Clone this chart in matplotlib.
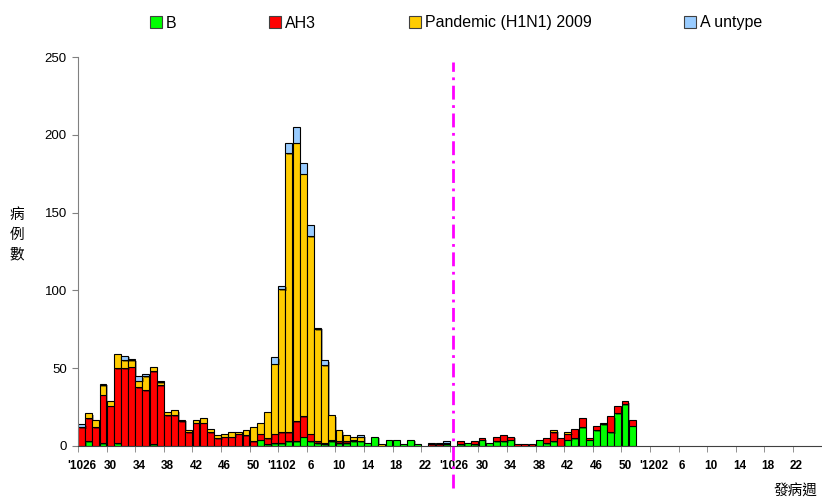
import matplotlib

matplotlib.use("Agg")

import matplotlib.pyplot as plt
import matplotlib.patheffects as pe
import numpy as np
from matplotlib.patches import Patch

# weekly counts, 2010 wk26 .. 2012 wk25 (104 weeks)
b_counts = [
    0, 3, 0, 2, 0, 2, 0, 0, 0, 0,
    1, 0, 0, 0, 0, 0, 0, 0, 0, 0,
    0, 0, 0, 0, 0, 4, 1, 2, 2, 3,
    3, 6, 3, 2, 1, 3, 2, 2, 3, 3,
    2, 6, 0, 4, 4, 1, 4, 1, 0, 0,
    0, 1, 0, 1, 2, 1, 4, 2, 3, 3,
    4, 0, 0, 0, 4, 2, 3, 0, 4, 5,
    12, 4, 10, 14, 9, 21, 27, 13, 0, 0,
    0, 0, 0, 0, 0, 0, 0, 0, 0, 0,
    0, 0, 0, 0, 0, 0, 0, 0, 0, 0,
    0, 0, 0, 0,
]
ah3_counts = [
    12, 15, 12, 31, 26, 48, 50, 51, 38, 36,
    47, 39, 20, 20, 16, 9, 15, 15, 9, 5,
    6, 6, 8, 7, 3, 4, 4, 6, 7, 6,
    13, 13, 5, 1, 1, 1, 1, 1, 1, 0,
    0, 0, 0, 0, 0, 0, 0, 0, 0, 1,
    1, 1, 0, 2, 0, 2, 1, 0, 3, 4,
    2, 1, 1, 1, 0, 3, 6, 5, 4, 6,
    6, 1, 3, 1, 10, 5, 2, 4, 0, 0,
    0, 0, 0, 0, 0, 0, 0, 0, 0, 0,
    0, 0, 0, 0, 0, 0, 0, 0, 0, 0,
    0, 0, 0, 0,
]
pandemic_counts = [
    0, 3, 5, 6, 3, 9, 5, 4, 4, 9,
    3, 2, 2, 3, 1, 1, 2, 3, 2, 2,
    2, 3, 1, 3, 9, 7, 17, 45, 92, 179,
    179, 156, 127, 72, 50, 16, 7, 4, 2, 3,
    0, 0, 1, 0, 0, 0, 0, 0, 0, 0,
    1, 0, 0, 0, 0, 0, 0, 0, 0, 0,
    0, 0, 0, 0, 0, 0, 1, 0, 1, 0,
    0, 0, 0, 0, 0, 0, 0, 0, 0, 0,
    0, 0, 0, 0, 0, 0, 0, 0, 0, 0,
    0, 0, 0, 0, 0, 0, 0, 0, 0, 0,
    0, 0, 0, 0,
]
untype_counts = [
    2, 0, 0, 1, 0, 0, 3, 1, 3, 1,
    0, 1, 0, 0, 0, 0, 0, 0, 0, 0,
    0, 0, 0, 0, 0, 0, 0, 4, 2, 7,
    10, 7, 7, 1, 3, 0, 0, 0, 0, 1,
    0, 0, 0, 0, 0, 0, 0, 0, 0, 1,
    0, 1, 0, 0, 0, 0, 0, 0, 0, 0,
    0, 0, 0, 0, 0, 0, 0, 0, 0, 0,
    0, 0, 0, 0, 0, 0, 0, 0, 0, 0,
    0, 0, 0, 0, 0, 0, 0, 0, 0, 0,
    0, 0, 0, 0, 0, 0, 0, 0, 0, 0,
    0, 0, 0, 0,
]
week_labels = [
    "'1026", "30", "34", "38", "42", "46", "50", "'1102", "6", "10", "14", "18", "22",
    "'1026", "30", "34", "38", "42", "46", "50", "'1202", "6", "10", "14", "18", "22",
]
series_names = ["B", "AH3", "Pandemic (H1N1) 2009", "A untype"]
series_colors = ["#00FF00", "#FF0000", "#FFCC00", "#99CCFF"]
divider_week = 52  # '11 wk26

plt.rcParams["font.family"] = ["Liberation Sans", "DejaVu Sans"]
cjk = ["Noto Sans CJK TC", "DejaVu Sans"]

fig = plt.figure(figsize=(8.22, 5.0), dpi=100)
ax = fig.add_axes([78 / 822, 54 / 500, 743.6 / 822, 389 / 500])

x = np.arange(len(b_counts))
bottom = np.zeros(len(x))
shadow = [pe.SimplePatchShadow(offset=(1.2, -1.2), shadow_rgbFace="#000000", alpha=0.35), pe.Normal()]
for vals, color in zip([b_counts, ah3_counts, pandemic_counts, untype_counts], series_colors):
    vals = np.asarray(vals, dtype=float)
    mask = vals > 0
    bars = ax.bar(x[mask], vals[mask], bottom=bottom[mask], width=0.96, color=color,
                  edgecolor="black", linewidth=0.8)
    for b in bars:
        b.set_path_effects(shadow)
    bottom += vals

ax.set_xlim(-0.5, len(x) - 0.5)
ax.set_ylim(0, 250)
ax.set_yticks(np.arange(0, 251, 50))
ax.tick_params(axis="y", direction="out", length=4, color="#808080", labelsize=9.5, pad=4)

ax.set_xticks(np.arange(0, 4 * len(week_labels), 4))
ax.set_xticklabels(week_labels, fontsize=8.5, fontweight="bold")
ax.set_xticks(np.arange(-0.5, len(x), 4), minor=True)
ax.tick_params(axis="x", which="major", length=0, pad=10)
ax.tick_params(axis="x", which="minor", direction="out", length=4, color="#808080")

for side in ["top", "right"]:
    ax.spines[side].set_visible(False)
ax.spines["left"].set_color("#808080")
ax.spines["bottom"].set_color("#404040")

ax.axvline(divider_week, ymin=-0.108, ymax=0.987, color="#FF00FF", linewidth=2,
           linestyle=(0, (5, 2, 1, 2)), clip_on=False, zorder=5)

fig.text(17 / 822, 1 - 235 / 500, "病\n例\n數", family=cjk, fontsize=10.5,
         ha="center", va="center", linespacing=1.5)
fig.text(795 / 822, 1 - 492 / 500, "發病週", family=cjk, fontsize=10.5, ha="center", va="center")

handles = [Patch(facecolor=c, edgecolor="#404040", linewidth=0.8) for c in series_colors]
fig.legend(handles, series_names, loc="center", bbox_to_anchor=(456 / 822, 1 - 23 / 500),
           ncol=4, frameon=False, fontsize=11.5, handlelength=0.75, handleheight=0.75,
           handletextpad=0.25, columnspacing=5.8)

fig.savefig("out.png", dpi=100)
